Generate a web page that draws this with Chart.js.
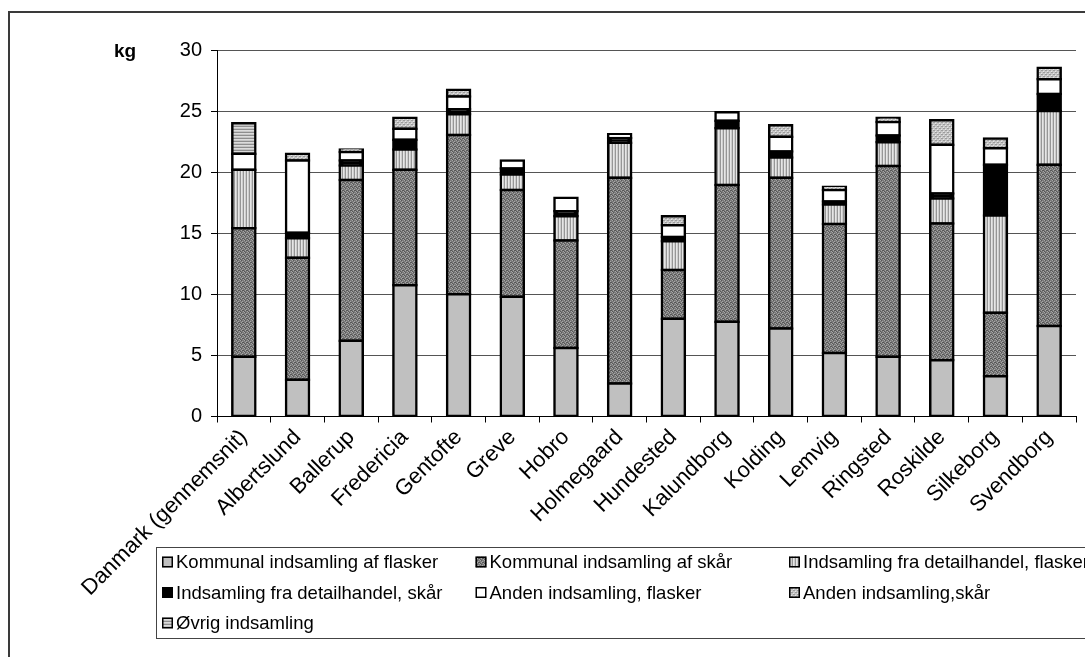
<!DOCTYPE html>
<html>
<head>
<meta charset="utf-8">
<script src="https://cdn.jsdelivr.net/npm/chart.js@4.4.1/dist/chart.umd.min.js"></script>
<style>
  html, body { margin: 0; padding: 0; background: #fff; }
  canvas { display: block; }
</style>
</head>
<body>
<canvas id="chart" width="1085" height="657"></canvas>
<script>
const FONT = '"Liberation Sans", Arial, Helvetica, sans-serif';

// Categories (municipalities, plus the national average first)
const categories = [
  'Danmark (gennemsnit)', 'Albertslund', 'Ballerup', 'Fredericia', 'Gentofte',
  'Greve', 'Hobro', 'Holmegaard', 'Hundested', 'Kalundborg', 'Kolding',
  'Lemvig', 'Ringsted', 'Roskilde', 'Silkeborg', 'Svendborg'
];

// Collected glass per inhabitant, kg, by collection channel
const kommunalFlasker = [4.9, 3.0, 6.2, 10.75, 10.0, 9.8, 5.6, 2.7, 8.0, 7.75, 7.2, 5.2, 4.9, 4.6, 3.3, 7.4];
const kommunalSkaar   = [10.5, 10.0, 13.15, 9.45, 13.05, 8.75, 8.8, 16.85, 4.0, 11.2, 12.35, 10.55, 15.6, 11.2, 5.2, 13.2];
const detailFlasker   = [4.8, 1.6, 1.2, 1.65, 1.7, 1.25, 2.0, 2.85, 2.35, 4.65, 1.65, 1.6, 1.95, 2.05, 7.95, 4.4];
const detailSkaar     = [0, 0.45, 0.4, 0.8, 0.4, 0.5, 0.4, 0.4, 0.35, 0.6, 0.5, 0.25, 0.55, 0.4, 4.15, 1.4];
const andenFlasker    = [1.3, 5.9, 0.7, 0.9, 1.05, 0.65, 1.1, 0.3, 0.95, 0.7, 1.2, 0.95, 1.1, 4.0, 1.35, 1.2];
const andenSkaar      = [0, 0.55, 0.2, 0.9, 0.55, 0, 0, 0, 0.75, 0, 0.95, 0.25, 0.35, 2.0, 0.8, 0.95];
const oevrig          = [2.5, 0, 0, 0, 0, 0, 0, 0, 0, 0, 0, 0, 0, 0, 0, 0];

const seriesLabels = [
  'Kommunal indsamling af flasker',
  'Kommunal indsamling af skår',
  'Indsamling fra detailhandel, flasker',
  'Indsamling fra detailhandel, skår',
  'Anden indsamling, flasker',
  'Anden indsamling,skår',
  'Øvrig indsamling'
];
const seriesValues = [kommunalFlasker, kommunalSkaar, detailFlasker, detailSkaar, andenFlasker, andenSkaar, oevrig];

// Value axis ticks
const yMin = 0, yMax = 30, yStep = 5;
const yTitle = 'kg';

// ---- fill patterns --------------------------------------------------------
const canvas = document.getElementById('chart');
const ctx = canvas.getContext('2d');

function makePattern(w, h, paint) {
  const c = document.createElement('canvas');
  c.width = w; c.height = h;
  const g = c.getContext('2d');
  paint(g);
  return ctx.createPattern(c, 'repeat');
}
function px(g, color, cells) {
  g.fillStyle = color;
  cells.forEach(([x, y]) => g.fillRect(x, y, 1, 1));
}

const fillSolidLight = '#c0c0c0';
const fillDarkDither = makePattern(4, 4, g => {
  g.fillStyle = '#7a7a7a'; g.fillRect(0, 0, 4, 4);
  px(g, '#a6a6a6', [[0, 0], [2, 1], [1, 2], [3, 3]]);
  px(g, '#585858', [[1, 0], [3, 2], [0, 3], [2, 2]]);
});
const fillVertStripes = makePattern(3, 3, g => {
  g.fillStyle = '#e6e6e6'; g.fillRect(0, 0, 3, 3);
  g.fillStyle = '#969696'; g.fillRect(0, 0, 1, 3);
  g.fillStyle = '#cdcdcd'; g.fillRect(2, 0, 1, 3);
});
const fillBlack = '#000000';
const fillWhite = '#ffffff';
const fillLightDither = makePattern(4, 4, g => {
  g.fillStyle = '#c6c6c6'; g.fillRect(0, 0, 4, 4);
  px(g, '#9c9c9c', [[0, 0], [2, 2], [3, 0], [1, 2]]);
  px(g, '#e6e6e6', [[1, 1], [3, 3]]);
});
const fillHorzStripes = makePattern(3, 3, g => {
  g.fillStyle = '#dcdcdc'; g.fillRect(0, 0, 3, 3);
  g.fillStyle = '#8e8e8e'; g.fillRect(0, 0, 3, 1);
  g.fillStyle = '#c4c4c4'; g.fillRect(0, 2, 3, 1);
});
const seriesFills = [fillSolidLight, fillDarkDither, fillVertStripes, fillBlack, fillWhite, fillLightDither, fillHorzStripes];

// ---- frame, axis title and legend --------------------------------------------
const decorations = {
  id: 'decorations',
  beforeDraw(chart) {
    const c = chart.ctx;
    c.save();
    c.fillStyle = '#fff';
    c.fillRect(0, 0, chart.width, chart.height);
    c.strokeStyle = '#3a3a3a';
    c.lineWidth = 2;
    c.strokeRect(9, 12, chart.width + 40, chart.height + 40);
    c.restore();
  },
  afterDraw(chart) {
    const c = chart.ctx;
    c.save();
    // unit label above the value axis
    c.fillStyle = '#000';
    c.font = 'bold 19px ' + FONT;
    c.textAlign = 'center';
    c.textBaseline = 'middle';
    c.fillText(yTitle, 125, chart.chartArea.top + 2);

    // legend box
    const box = { left: 156, top: 547, height: 91 };
    c.strokeStyle = '#444';
    c.lineWidth = 1;
    c.strokeRect(box.left + 0.5, box.top + 0.5, chart.width + 40, box.height);

    const colW = 313.5, rowH = 30.5, icon = 11;
    c.font = '18.5px ' + FONT;
    c.textAlign = 'left';
    chart.data.datasets.forEach((ds, i) => {
      const col = i % 3, row = Math.floor(i / 3);
      const x = 162 + col * colW;
      const y = 562 + row * rowH;
      c.fillStyle = ds.backgroundColor;
      c.fillRect(x, y - icon / 2, icon, icon);
      c.strokeStyle = '#000';
      c.lineWidth = 1.5;
      c.strokeRect(x + 0.75, y - icon / 2 + 0.75, icon - 1.5, icon - 1.5);
      c.fillStyle = '#000';
      c.textBaseline = 'middle';
      c.fillText(ds.label, x + icon + 3, y + 1);
    });
    c.restore();
  }
};

new Chart(ctx, {
  type: 'bar',
  data: {
    labels: categories,
    datasets: seriesValues.map((vals, i) => ({
      label: seriesLabels[i],
      data: vals.map(v => (v === 0 ? null : v)),
      backgroundColor: seriesFills[i],
      borderColor: '#000',
      borderWidth: 2.5,
      borderSkipped: false,
      inflateAmount: 1.25,
      barPercentage: 0.43,
      categoryPercentage: 1
    }))
  },
  options: {
    responsive: false,
    devicePixelRatio: 1,
    animation: false,
    events: [],
    layout: { padding: { left: 0, top: 50, right: 9, bottom: 0 } },
    plugins: { legend: { display: false }, tooltip: { enabled: false } },
    scales: {
      x: {
        stacked: true,
        grid: { offset: true, drawOnChartArea: false, tickLength: 6, tickColor: '#000', lineWidth: 1 },
        border: { color: '#000', width: 1 },
        ticks: {
          autoSkip: false, minRotation: 45, maxRotation: 45,
          color: '#000', padding: 2,
          font: { family: FONT, size: 22 }
        },
        afterFit(scale) { scale.height = 240.5; }
      },
      y: {
        stacked: true,
        min: yMin, max: yMax,
        ticks: { stepSize: yStep, color: '#000', padding: 9, font: { family: FONT, size: 20 } },
        grid: { color: '#555', tickColor: '#000', tickLength: 6, lineWidth: 1 },
        border: { color: '#000', width: 1 },
        afterFit(scale) { scale.width = 217; }
      }
    }
  },
  plugins: [decorations]
});
</script>
</body>
</html>
